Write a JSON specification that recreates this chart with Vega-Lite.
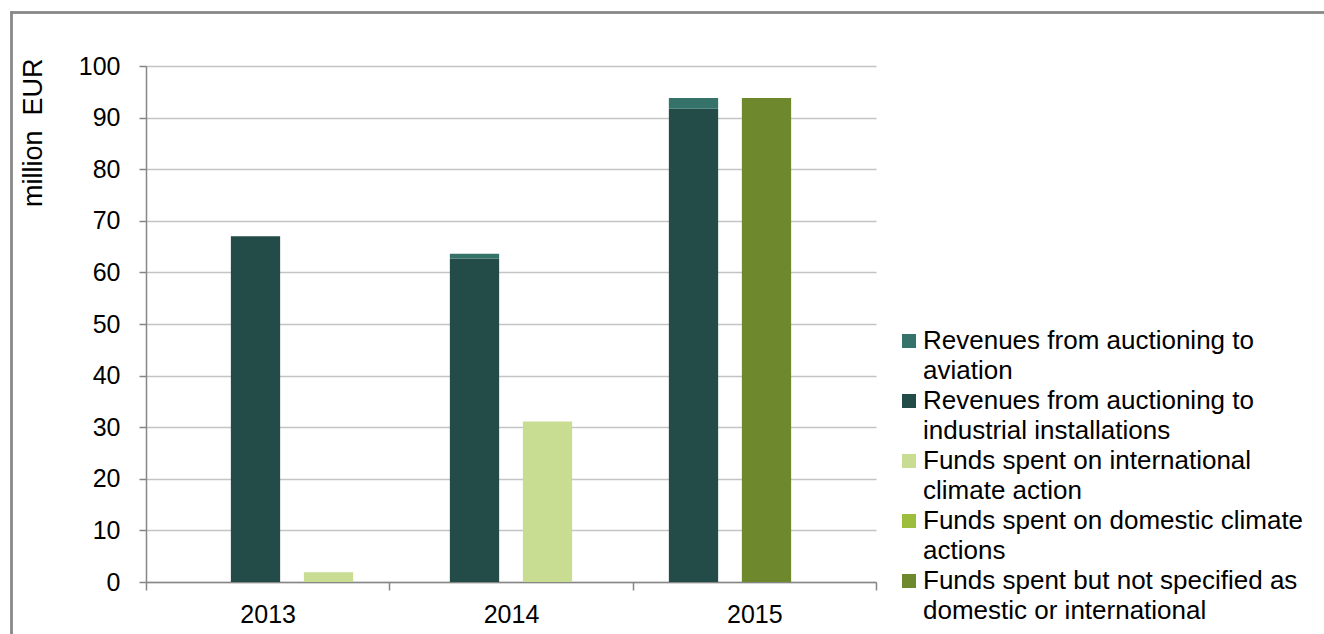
{
  "$schema": "https://vega.github.io/schema/vega-lite/v6.json",
  "width": 730,
  "height": 516,
  "autosize": {"type": "none"},
  "padding": {"left": 146, "top": 66, "right": 448, "bottom": 52},
  "background": "white",
  "config": {
    "font": "Liberation Sans",
    "view": {"stroke": null},
    "axis": {
      "labelFont": "Liberation Sans",
      "titleFont": "Liberation Sans",
      "labelColor": "#000000",
      "titleColor": "#000000",
      "domainColor": "#868686",
      "domainWidth": 1.5,
      "tickColor": "#868686",
      "tickWidth": 1.5,
      "gridColor": "#c4c4c4",
      "gridWidth": 1.3
    },
    "legend": {"labelFont": "Liberation Sans"}
  },
  "data": {
    "values": [
      {"year": "2013", "group": "Revenues", "series": "Revenues from auctioning to industrial installations", "value": 67.0},
      {"year": "2014", "group": "Revenues", "series": "Revenues from auctioning to industrial installations", "value": 62.7},
      {"year": "2014", "group": "Revenues", "series": "Revenues from auctioning to aviation", "value": 0.9},
      {"year": "2015", "group": "Revenues", "series": "Revenues from auctioning to industrial installations", "value": 91.7},
      {"year": "2015", "group": "Revenues", "series": "Revenues from auctioning to aviation", "value": 2.1},
      {"year": "2013", "group": "Funds", "series": "Funds spent on international climate action", "value": 1.9},
      {"year": "2014", "group": "Funds", "series": "Funds spent on international climate action", "value": 31.1},
      {"year": "2015", "group": "Funds", "series": "Funds spent but not specified as domestic or international", "value": 93.8}
    ]
  },
  "layer": [
    {
      "mark": {"type": "bar"},
      "encoding": {
        "x": {
          "field": "year",
          "type": "nominal",
          "scale": {"paddingInner": 0, "paddingOuter": 0.1667},
          "axis": null
        },
        "xOffset": {
          "field": "group",
          "type": "nominal",
          "scale": {"domain": ["Revenues", "Funds"], "paddingInner": 0.325, "paddingOuter": 0.6625}
        },
        "y": {
          "field": "value",
          "type": "quantitative",
          "stack": "zero",
          "scale": {"domain": [0, 100]},
          "axis": {
            "title": "million\u00a0 EUR",
            "titleFontSize": 27,
            "titleFontWeight": "normal",
            "titleAngle": -90,
            "titleAlign": "right",
            "titleBaseline": "bottom",
            "titleY": -8,
            "titlePadding": 31,
            "values": [0, 10, 20, 30, 40, 50, 60, 70, 80, 90, 100],
            "labelFontSize": 25,
            "labelPadding": 19,
            "tickSize": 7,
            "grid": true
          }
        },
        "color": {
          "field": "series",
          "type": "nominal",
          "scale": {
            "domain": [
              "Revenues from auctioning to aviation",
              "Revenues from auctioning to industrial installations",
              "Funds spent on international climate action",
              "Funds spent on domestic climate actions",
              "Funds spent but not specified as domestic or international"
            ],
            "range": ["#35736A", "#234C48", "#C8DD92", "#9DBE3C", "#6E892D"]
          },
          "legend": {
            "orient": "none",
            "legendX": 750,
            "legendY": 262,
            "title": null,
            "labelFontSize": 26,
            "labelColor": "#000000",
            "symbolType": "square",
            "symbolSize": 196,
            "symbolStrokeWidth": 0,
            "symbolOpacity": 1,
            "labelOffset": 1,
            "rowPadding": 4,
            "labelLimit": 500,
            "encode": {"labels": {"update": {"lineHeight": {"value": 30}}}},
            "labelExpr": "datum.label == 'Revenues from auctioning to aviation' ? ['Revenues from auctioning to', 'aviation'] : datum.label == 'Revenues from auctioning to industrial installations' ? ['Revenues from auctioning to', 'industrial installations'] : datum.label == 'Funds spent on international climate action' ? ['Funds spent on international', 'climate action'] : datum.label == 'Funds spent on domestic climate actions' ? ['Funds spent on domestic climate', 'actions'] : ['Funds spent but not specified as', 'domestic or international']"
          }
        },
        "order": {"field": "series", "sort": "descending"}
      }
    },
    {
      "mark": {"type": "bar", "opacity": 0},
      "encoding": {
        "x": {
          "field": "year",
          "type": "nominal",
          "scale": {"paddingInner": 0, "paddingOuter": 0},
          "axis": {
            "title": null,
            "labelAngle": 0,
            "labelFontSize": 25,
            "labelPadding": 12,
            "tickBand": "extent",
            "tickSize": 8,
            "grid": false
          }
        }
      }
    },
    {
      "mark": {"type": "rule", "color": "#898989", "strokeWidth": 1.5, "clip": false},
      "encoding": {
        "x": {"datum": 0, "type": "quantitative", "scale": {"domain": [0, 1], "range": [-134.5, 1178]}, "axis": null},
        "y": {"datum": 0, "type": "quantitative", "scale": {"domain": [0, 1], "range": [-54.5, 568]}, "axis": null},
        "y2": {"datum": 1}
      }
    },
    {
      "mark": {"type": "rule", "color": "#898989", "strokeWidth": 1.5, "clip": false},
      "encoding": {
        "x": {"datum": 0, "type": "quantitative", "scale": {"domain": [0, 1], "range": [-135.25, 1178]}, "axis": null},
        "x2": {"datum": 1},
        "y": {"datum": 0, "type": "quantitative", "scale": {"domain": [0, 1], "range": [-53.5, 568]}, "axis": null}
      }
    }
  ],
  "resolve": {"scale": {"x": "independent", "y": "independent"}}
}
